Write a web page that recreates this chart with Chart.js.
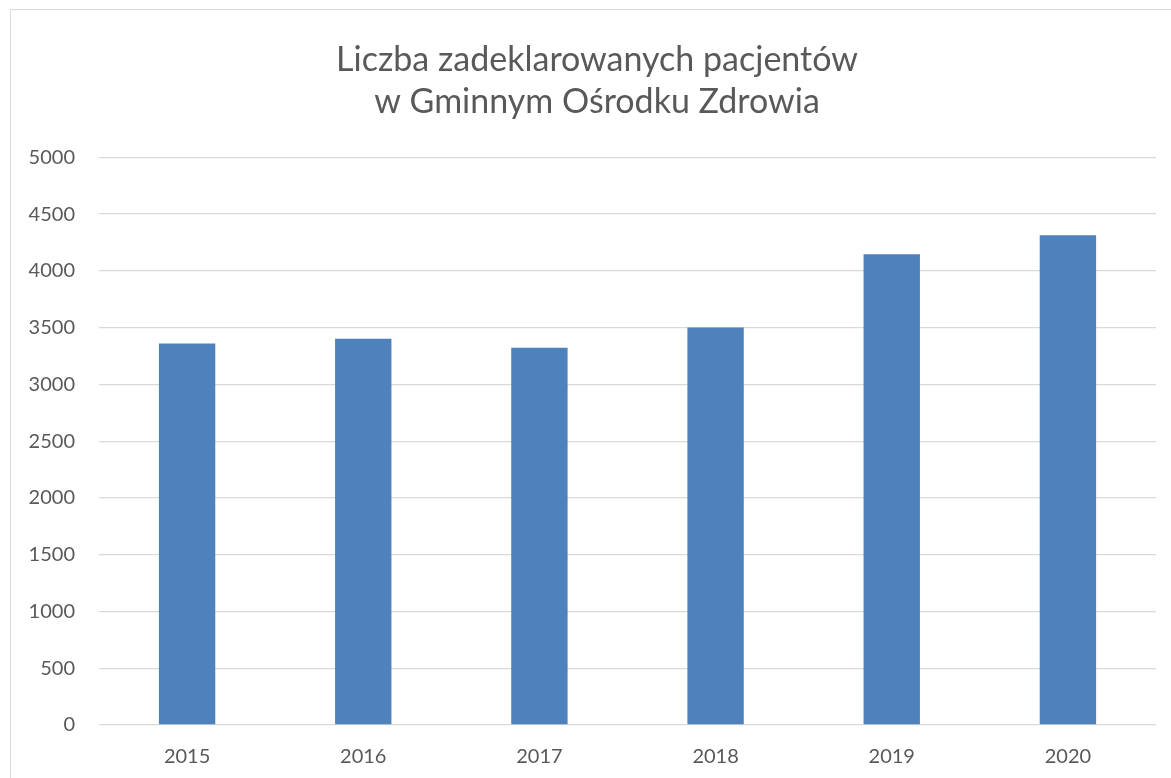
<!DOCTYPE html>
<html>
<head>
  <meta charset="utf-8">
  <title>Liczba zadeklarowanych pacjentów</title>
  <script src="https://cdn.jsdelivr.net/npm/chart.js"></script>
  <style>
    html, body { margin: 0; padding: 0; background: #fff; overflow: hidden; }
    .frame { position: absolute; left: 10px; top: 9px; width: 1172px; height: 790px; border: 1px solid #d9d9d9; }
    canvas { display: block; }
  </style>
</head>
<body>
  <div class="frame">
    <canvas id="chart" width="1172" height="790"></canvas>
  </div>
  <script>
    // data
    const years = ['2015', '2016', '2017', '2018', '2019', '2020'];
    const patients = [3361, 3403, 3323, 3501, 4147, 4313];
    const titleLines = ['Liczba zadeklarowanych pacjentów', 'w Gminnym Ośrodku Zdrowia'];

    const grey = '#595959';

    new Chart(document.getElementById('chart'), {
      type: 'bar',
      data: {
        labels: years,
        datasets: [{
          label: 'Pacjenci',
          data: patients,
          backgroundColor: '#4f81bd',
          categoryPercentage: 1,
          barPercentage: 0.32
        }]
      },
      options: {
        responsive: false,
        animation: false,
        plugins: {
          legend: { display: false },
          tooltip: { enabled: false },
          title: {
            display: true,
            text: titleLines,
            color: grey,
            font: { family: 'Lato', size: 34, weight: 'normal', lineHeight: 1.24 },
            padding: { top: 29, bottom: 34 }
          }
        },
        scales: {
          x: {
            grid: { display: false, drawTicks: false },
            border: { display: false },
            ticks: { color: grey, font: { family: 'Lato', size: 20 }, padding: 20 },
            afterFit: s => { s.height = 75; }
          },
          y: {
            min: 0,
            max: 5000,
            grid: { color: '#d9d9d9', lineWidth: 1.3, drawTicks: false },
            border: { display: false },
            ticks: {
              stepSize: 500, color: grey, font: { family: 'Lato', size: 20 }, padding: 24,
              callback: v => String(v)
            },
            afterFit: s => { s.width = 88; }
          },
          // empty right-hand axis, only keeps space on the right of the plot
          yRight: {
            position: 'right',
            grid: { display: false, drawTicks: false },
            border: { display: false },
            ticks: { display: false },
            afterFit: s => { s.width = 27; }
          }
        }
      }
    });
  </script>
</body>
</html>
